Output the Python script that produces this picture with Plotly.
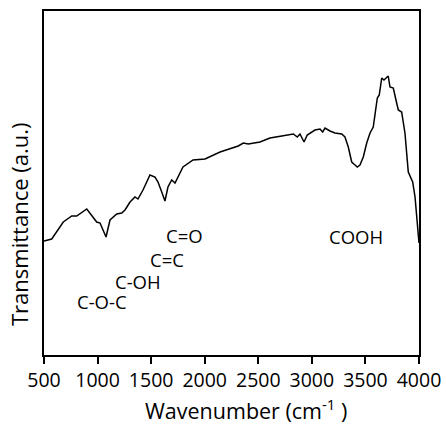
import plotly.graph_objects as go

wavenumber = [500, 572, 680, 759, 805, 899, 992, 1023, 1079, 1116, 1179, 1225, 1256, 1303,
              1349, 1377, 1424, 1489, 1536, 1564, 1599, 1629, 1657, 1692, 1723, 1751, 1797,
              1891, 2003, 2143, 2236, 2313, 2360, 2407, 2516, 2609, 2719, 2827, 2864, 2889,
              2927, 2957, 3029, 3076, 3101, 3123, 3169, 3216, 3279, 3309, 3340, 3372, 3403,
              3424, 3449, 3480, 3512, 3543, 3573, 3589, 3611, 3629, 3652, 3673, 3698, 3713,
              3729, 3760, 3785, 3807, 3838, 3869, 3900, 3941, 3963, 3994, 4000]
transmittance = [114, 116, 133, 139, 139, 146, 133, 132, 118, 135, 141, 142, 145, 153,
                 158, 156, 165, 180, 178, 173, 163, 154, 168, 175, 172, 178, 188,
                 195, 196, 203, 206, 209, 212, 211, 213, 217, 219, 221, 218, 221,
                 213, 220, 225, 226, 223, 227, 224, 222, 221, 218, 208, 193, 190,
                 188, 190, 198, 212, 222, 228, 242, 257, 260, 277, 275, 278, 279,
                 268, 267, 255, 245, 243, 222, 183, 173, 158, 113, 112]

labels = ["C-O-C", "C-OH", "C=C", "C=O", "COOH"]
label_x = [1041, 1377, 1648, 1807, 3412]
label_y = [54, 74, 96, 120, 119]

tick_vals = [500, 1000, 1500, 2000, 2500, 3000, 3500, 4000]

FONT = "Open Sans"

fig = go.Figure()
fig.add_trace(go.Scatter(x=wavenumber, y=transmittance, mode="lines",
                         line=dict(color="black", width=1.5), showlegend=False))

for t, xv, yv in zip(labels, label_x, label_y):
    fig.add_annotation(x=xv, y=yv, text=t, showarrow=False,
                       font=dict(family=FONT, size=18.5, color="black"),
                       xanchor="center", yanchor="middle")

fig.add_annotation(xref="paper", yref="paper", x=0.5, xshift=14, y=0, yshift=-54,
                   text="Wavenumber (cm<sup>-1</sup> )", showarrow=False,
                   font=dict(family=FONT, size=21.5, color="black"),
                   xanchor="center", yanchor="middle")
fig.add_annotation(xref="paper", yref="paper", x=0, xshift=-25, y=0.5, yshift=-41,
                   text="Transmittance (a.u.)", showarrow=False, textangle=-90,
                   font=dict(family=FONT, size=22, color="black"),
                   xanchor="center", yanchor="middle")

fig.update_layout(
    width=446, height=425,
    margin=dict(l=44, r=27, t=11, b=70, autoexpand=False),
    paper_bgcolor="white", plot_bgcolor="white",
    font=dict(family=FONT, size=19.5, color="black"),
    xaxis=dict(range=[500, 4000], tickvals=tick_vals, ticks="outside", ticklen=7,
               tickwidth=2, tickcolor="black", showline=True, linecolor="black",
               linewidth=2, mirror=True, showgrid=False, zeroline=False,
               automargin=False,
               tickfont=dict(family=FONT, size=19.5, color="black")),
    yaxis=dict(range=[0, 344], showticklabels=False, ticks="", showline=True,
               linecolor="black", linewidth=2, mirror=True, showgrid=False,
               zeroline=False, automargin=False),
)

fig.write_html("out.html")
